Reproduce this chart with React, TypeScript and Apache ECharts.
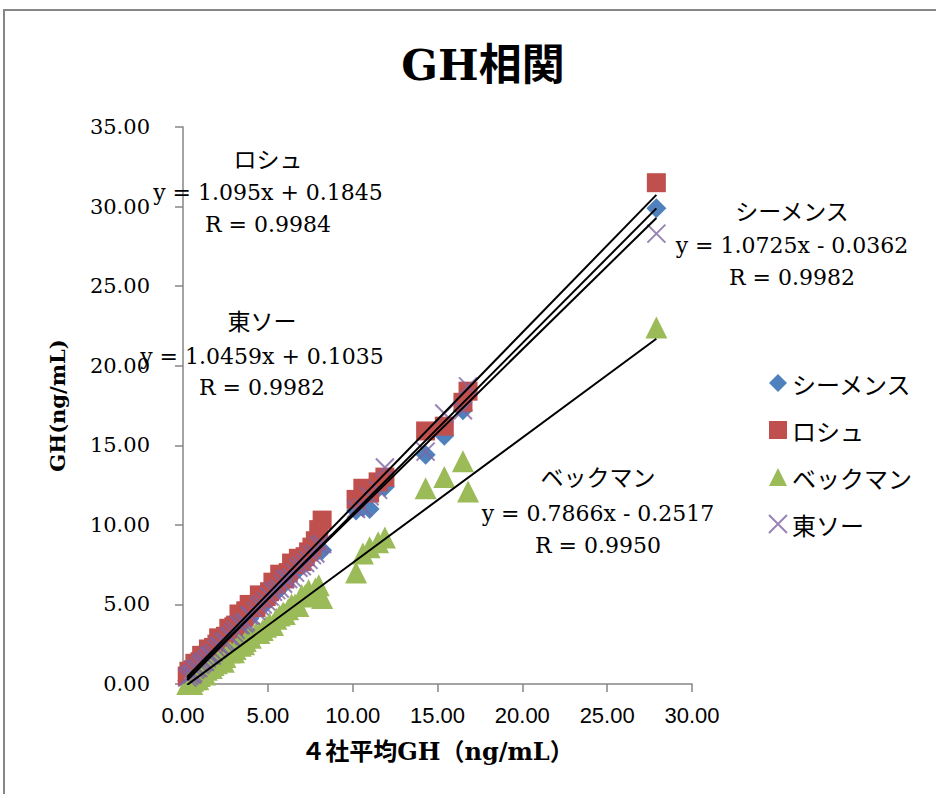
import React, { useEffect, useRef } from "react";
import * as echarts from "echarts";

// 4社平均 (x) values shared by all series
const avgX = [0.25, 0.45, 0.6, 0.8, 1.0, 1.2, 1.4, 1.6, 1.8, 2.0, 2.2, 2.5, 2.8, 3.1, 3.4, 3.7, 4.0, 4.3, 4.7, 5.1, 5.5, 5.9, 6.2, 6.6, 7.0, 7.4, 7.8, 8.2, 10.2, 10.6, 11.0, 11.5, 11.9, 14.3, 15.4, 16.5, 16.8, 27.9,
  0.35, 0.55, 0.7, 0.9, 1.1, 1.3, 1.5, 1.7, 2.1, 2.4, 2.7, 3.0, 3.3, 3.6, 3.9, 4.5, 4.9, 5.3, 5.7, 6.0, 6.4, 6.8, 7.2, 7.6, 8.0];

const siemensY = [0.2, 0.4, 0.6, 0.8, 1.0, 1.2, 1.5, 1.7, 1.9, 2.1, 2.4, 2.6, 3.0, 3.3, 3.6, 3.9, 4.3, 4.6, 5.0, 5.5, 5.8, 6.3, 6.7, 7.0, 7.5, 7.9, 8.5, 8.4, 10.9, 11.1, 11.0, 12.3, 12.4, 14.4, 15.6, 17.2, 18.2, 29.9,
  0.3, 0.7, 0.6, 1.1, 1.1, 1.5, 1.5, 1.9, 2.2, 2.7, 2.8, 3.3, 3.5, 3.9, 4.1, 5.0, 5.1, 5.8, 6.0, 6.5, 6.8, 7.4, 7.6, 8.3, 8.4];
const rocheY = [0.5, 0.7, 0.9, 1.2, 1.4, 1.6, 1.8, 2.0, 2.3, 2.5, 2.6, 3.0, 3.3, 3.7, 4.1, 4.6, 4.9, 4.8, 5.4, 5.8, 6.3, 6.8, 7.0, 7.5, 7.7, 8.3, 9.0, 10.3, 11.6, 12.3, 12.0, 12.7, 13.0, 15.9, 16.2, 17.7, 18.4, 31.5,
  0.8, 0.6, 1.3, 1.1, 1.8, 1.5, 2.2, 2.0, 2.9, 2.7, 3.5, 3.6, 4.4, 4.2, 5.0, 5.6, 5.5, 6.4, 6.9, 6.6, 7.6, 7.9, 8.0, 8.6, 9.7];
const beckmanY = [0.0, 0.1, 0.2, 0.4, 0.5, 0.7, 0.9, 1.0, 1.2, 1.3, 1.5, 1.7, 2.0, 2.2, 2.4, 2.7, 2.9, 3.2, 3.4, 3.8, 4.1, 4.5, 4.7, 5.0, 5.6, 5.9, 6.0, 5.4, 7.0, 8.2, 8.6, 8.9, 9.2, 12.3, 13.0, 14.0, 12.1, 22.4,
  0.1, 0.0, 0.3, 0.3, 0.7, 0.6, 1.0, 1.0, 1.5, 1.4, 2.0, 2.0, 2.5, 2.5, 3.0, 3.2, 3.6, 3.7, 4.3, 4.4, 5.0, 4.9, 5.6, 5.5, 6.2];
const tosohY = [0.4, 0.6, 0.7, 1.0, 1.2, 1.4, 1.6, 1.8, 2.0, 2.2, 2.4, 2.7, 3.0, 3.4, 3.7, 3.9, 4.3, 4.6, 5.0, 5.5, 5.9, 6.3, 6.6, 7.0, 7.4, 7.8, 8.2, 8.8, 11.0, 11.1, 11.8, 12.2, 13.6, 14.6, 17.0, 17.2, 18.7, 28.3,
  0.5, 0.6, 0.9, 1.0, 1.3, 1.4, 1.8, 1.8, 2.4, 2.6, 3.0, 3.2, 3.7, 3.8, 4.3, 4.9, 5.2, 5.8, 6.0, 6.6, 6.7, 7.3, 7.6, 8.1, 8.7];

const seriesNames = ["シーメンス", "ロシュ", "ベックマン", "東ソー"];
const seriesColors = ["#4F81BD", "#C0504D", "#9BBB59", "#8064A2"];
// trend line coefficients
const slopes = [1.0725, 1.095, 0.7866, 1.0459];
const intercepts = [-0.0362, 0.1845, -0.2517, 0.1035];
const equationTexts = ["y = 1.0725x - 0.0362", "y = 1.095x + 0.1845", "y = 0.7866x - 0.2517", "y = 1.0459x + 0.1035"];
const rTexts = ["R = 0.9982", "R = 0.9984", "R = 0.9950", "R = 0.9982"];

const xTicks = [0, 5, 10, 15, 20, 25, 30];
const yTicks = [0, 5, 10, 15, 20, 25, 30, 35];

const SERIF = "'DejaVu Serif', 'Noto Sans CJK JP', serif";
const JP = "'Noto Sans CJK JP', 'DejaVu Serif', serif";

export default function App() {
  const ref = useRef<HTMLDivElement>(null);
  useEffect(() => {
    if (!ref.current) return;
    const chart = echarts.init(ref.current, undefined, { renderer: "svg" });
    const ys = [siemensY, rocheY, beckmanY, tosohY];
    const symbols = ["diamond", "rect", "triangle", "path://M0,0L10,10M10,0L0,10"];
    const sizes = [20, 19, 22, 18];
    const scatter = ys.map((arr, i) => ({
      name: seriesNames[i],
      type: "scatter",
      data: avgX.map((x, j) => [x, arr[j]]),
      symbol: symbols[i],
      symbolSize: sizes[i],
      itemStyle: i === 3
        ? { color: "rgba(0,0,0,0)", borderColor: seriesColors[i], borderWidth: 2 }
        : { color: seriesColors[i], opacity: 1 },
      z: 2 + i,
    }));
    const xMin = Math.min(...avgX);
    const xMax = Math.max(...avgX);
    const lines = slopes.map((s, i) => ({
      name: "trend" + i,
      type: "line",
      data: [[xMin, s * xMin + intercepts[i]], [xMax, s * xMax + intercepts[i]]],
      symbol: "none",
      lineStyle: { color: "#000", width: 2 },
      z: 10,
      silent: true,
    }));
    const labelPos = [
      [792, 210, 245, 277],
      [268, 158, 192, 224],
      [598, 476, 513, 545],
      [262, 320, 356, 387],
    ];
    const texts: any[] = [];
    labelPos.forEach((p, i) => {
      texts.push({ type: "text", x: p[0], y: p[1], style: { text: seriesNames[i], font: `23px ${JP}`, fill: "#000", textAlign: "center", textVerticalAlign: "middle" }, z: 100 });
      texts.push({ type: "text", x: p[0], y: p[2], style: { text: equationTexts[i], font: `22px ${SERIF}`, fill: "#000", textAlign: "center", textVerticalAlign: "middle" }, z: 100 });
      texts.push({ type: "text", x: p[0], y: p[3], style: { text: rTexts[i], font: `22px ${SERIF}`, fill: "#000", textAlign: "center", textVerticalAlign: "middle" }, z: 100 });
    });
    chart.setOption({
      animation: false,
      backgroundColor: "#fff",
      title: {
        text: "GH相関",
        left: 478,
        textAlign: "center",
        top: 38,
        textStyle: { fontSize: 43, fontWeight: "bold", fontFamily: SERIF, color: "#000" },
      },
      grid: { left: 183, right: 244, top: 127, bottom: 110 },
      xAxis: {
        type: "value",
        min: xTicks[0],
        max: xTicks[xTicks.length - 1],
        interval: 5,
        name: "４社平均GH（ng/mL）",
        nameLocation: "middle",
        nameGap: 55,
        nameTextStyle: { fontSize: 24, fontWeight: "bold", fontFamily: SERIF, color: "#000" },
        axisLine: { lineStyle: { color: "#868686", width: 1.5 } },
        axisTick: { show: true, inside: false, length: 8, lineStyle: { color: "#868686", width: 1.5 } },
        axisLabel: { formatter: (v: number) => v.toFixed(2), fontSize: 22, fontFamily: "'Liberation Sans', Arial, sans-serif", color: "#000", margin: 20 },
        splitLine: { show: false },
      },
      yAxis: {
        type: "value",
        min: yTicks[0],
        max: yTicks[yTicks.length - 1],
        interval: 5,
        name: "GH(ng/mL)",
        nameLocation: "middle",
        nameGap: 115,
        nameRotate: 90,
        nameTextStyle: { fontSize: 21, fontWeight: "bold", fontFamily: SERIF, color: "#000" },
        axisLine: { show: true, lineStyle: { color: "#868686", width: 1.5 } },
        axisTick: { show: true, inside: false, length: 8, lineStyle: { color: "#868686", width: 1.5 } },
        axisLabel: { formatter: (v: number) => v.toFixed(2), fontSize: 21, fontFamily: SERIF, color: "#000", margin: 33 },
        splitLine: { show: false },
      },
      legend: {
        data: seriesNames,
        orient: "vertical",
        left: 763,
        top: 366,
        itemGap: 23,
        itemWidth: 18,
        itemHeight: 18,
        textStyle: { fontSize: 24, fontFamily: JP, color: "#000", lineHeight: 24 },
      },
      graphic: [
        { type: "rect", shape: { x: 4, y: 10, width: 1000, height: 1000 }, style: { fill: "none", stroke: "#868686", lineWidth: 2 }, z: 0 },
        ...texts,
      ],
      series: [...scatter, ...lines],
    });
    return () => chart.dispose();
  }, []);
  return <div ref={ref} style={{ position: "fixed", left: 0, top: 0, width: 936, height: 794 }} />;
}
